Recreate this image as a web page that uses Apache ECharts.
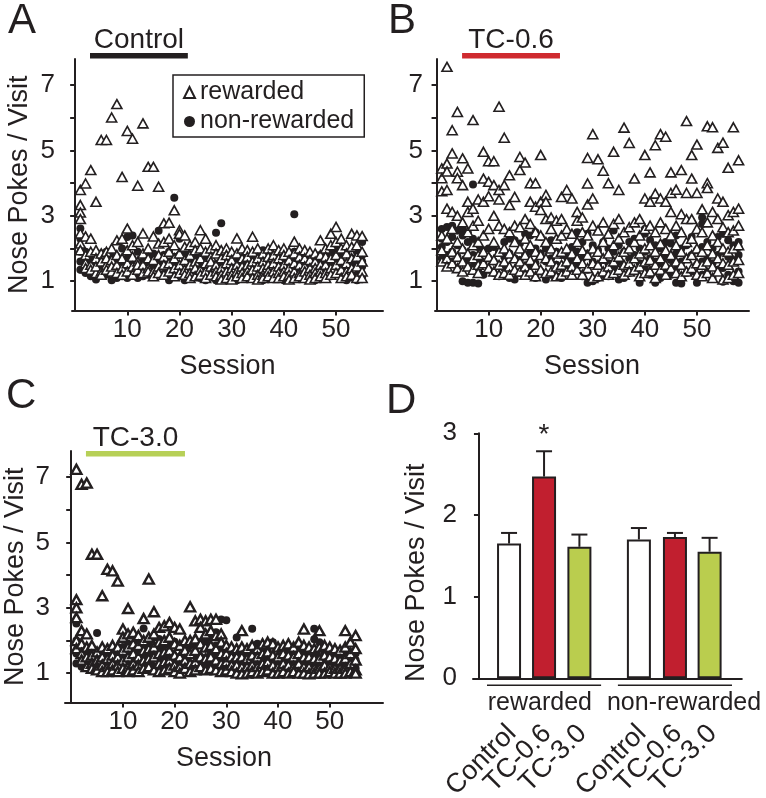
<!DOCTYPE html>
<html>
<head>
<meta charset="utf-8">
<script src="https://cdn.jsdelivr.net/npm/echarts@6/dist/echarts.min.js"></script>
<style>
  html, body { margin: 0; background: #fff; }
  #chart { width: 766px; height: 798px; }
</style>
</head>
<body>
<div id="chart"></div>
<script>
// ---- data ----
// nose pokes per visit, one list per session (session = index + 1)
const aRewarded = [
  [3.79, 3.33, 3.1, 2.9, 2.46, 2.15, 1.95], [3.99, 2.37, 1.8, 1.55, 1.4], [4.4, 2.3, 1.9, 1.5, 1.35],
  [3.43, 1.95, 1.7, 1.25, 1.45], [5.32, 1.85, 1.6, 1.3, 1.2], [5.32, 1.9, 1.5, 1.35, 1.7],
  [6.01, 2.0, 1.65, 1.3, 1.45], [6.42, 2.25, 1.8, 1.5, 1.25], [4.19, 2.3, 1.7, 1.4, 1.2],
  [5.6, 2.61, 1.95, 1.55, 1.3], [5.36, 2.1, 1.75, 1.45, 1.2], [3.92, 2.2, 1.6, 1.35, 1.5],
  [5.83, 2.46, 1.85, 1.5, 1.25], [4.5, 2.0, 1.7, 1.4, 1.3], [4.5, 2.37, 1.65, 1.3, 1.15],
  [3.89, 2.15, 1.8, 1.45, 1.25], [2.77, 2.2, 1.75, 1.5, 1.2], [2.79, 2.3, 1.9, 1.55, 1.3],
  [3.17, 2.1, 1.7, 1.4, 1.15], [2.56, 2.45, 1.85, 1.5, 1.25], [2.4, 2.05, 1.65, 1.35, 1.2],
  [2.1, 1.8, 1.5, 1.25, 1.1], [2.2, 1.95, 1.6, 1.4, 1.15], [2.56, 2.0, 1.7, 1.35, 1.2],
  [2.3, 1.9, 1.55, 1.3, 1.1], [2.0, 1.75, 1.45, 1.2, 1.6], [2.1, 1.85, 1.5, 1.3, 1.15],
  [1.95, 1.7, 1.4, 1.2, 1.05], [2.0, 1.8, 1.55, 1.3, 1.1], [1.9, 1.65, 1.4, 1.2, 1.05],
  [2.31, 1.85, 1.5, 1.3, 1.15], [2.0, 1.7, 1.45, 1.25, 1.1], [1.95, 1.75, 1.5, 1.3, 1.15],
  [2.36, 1.9, 1.6, 1.35, 1.1], [2.0, 1.7, 1.45, 1.2, 1.05], [1.85, 1.6, 1.4, 1.2, 1.1],
  [2.0, 1.75, 1.5, 1.3, 1.15], [2.1, 1.8, 1.55, 1.3, 1.1], [1.95, 1.7, 1.45, 1.25, 1.1],
  [2.0, 1.8, 1.5, 1.3, 1.15], [1.9, 1.65, 1.4, 1.2, 1.05], [2.21, 1.85, 1.55, 1.3, 1.1],
  [2.0, 1.75, 1.5, 1.25, 1.15], [1.95, 1.7, 1.45, 1.3, 1.1], [1.9, 1.65, 1.4, 1.2, 1.05],
  [1.85, 1.6, 1.4, 1.25, 1.1], [2.25, 1.8, 1.5, 1.3, 1.15], [2.0, 1.75, 1.5, 1.25, 1.1],
  [2.45, 2.1, 1.7, 1.4, 1.2], [2.66, 2.2, 1.8, 1.5, 1.25], [2.3, 2.0, 1.65, 1.35, 1.1],
  [2.1, 1.85, 1.55, 1.3, 1.15], [2.45, 2.05, 1.7, 1.4, 1.2], [2.4, 2.1, 1.75, 1.45, 1.1],
  [2.38, 1.9, 1.6, 1.3, 1.1]
];
const aNonRewarded = [
  [2.61, 2.3, 1.9, 1.6, 1.35], [1.9, 1.5, 1.25, 1.7], [1.7, 1.35, 1.55, 1.15], [1.05, 1.5, 1.8, 1.3],
  [1.2, 1.65, 1.45, 1.85], [1.4, 1.9, 1.2, 1.6], [1.03, 1.5, 1.75, 1.3], [1.3, 1.75, 1.55, 1.1],
  [1.6, 2.0, 1.35, 1.15], [2.35, 1.45, 1.1, 1.7], [2.4, 1.7, 1.25, 1.5], [1.5, 1.9, 1.3, 1.1],
  [1.35, 1.8, 1.6, 1.15], [1.6, 1.2, 1.85, 1.4], [1.45, 1.85, 1.25, 1.65], [2.54, 1.7, 1.3, 1.5],
  [1.55, 1.2, 1.8, 1.4], [1.03, 1.6, 1.9, 1.35], [3.55, 1.5, 1.25, 1.75], [2.3, 1.8, 1.4, 1.15],
  [1.03, 1.6, 1.35, 1.85], [1.35, 1.7, 1.5, 1.15], [1.5, 1.2, 1.75, 1.35], [1.8, 1.3, 1.55, 1.1],
  [1.03, 1.55, 1.35, 1.75], [1.4, 1.75, 1.2, 1.55], [2.48, 1.03, 1.5, 1.3], [2.77, 1.3, 1.6, 1.8],
  [1.45, 1.8, 1.2, 1.6], [1.2, 1.6, 1.4, 1.05], [1.03, 1.7, 1.45, 1.25], [1.5, 1.25, 1.7, 1.1],
  [1.65, 1.35, 1.15, 1.85], [1.8, 1.4, 1.6, 1.2], [1.9, 1.5, 1.2, 1.7], [1.95, 1.03, 1.6, 1.8],
  [1.85, 1.3, 1.55, 1.1], [1.5, 1.2, 1.7, 1.35], [1.7, 1.35, 1.15, 1.55], [1.03, 1.6, 1.4, 1.8],
  [1.45, 1.8, 1.2, 1.65], [3.05, 1.3, 1.65, 1.9, 1.1], [1.9, 1.5, 1.25, 1.7], [1.35, 1.7, 1.55, 1.15],
  [1.55, 1.2, 1.75, 1.4], [1.03, 1.6, 1.35, 1.8], [1.8, 1.4, 1.6, 1.2], [1.5, 1.25, 1.75, 1.1],
  [1.9, 1.6, 1.35, 1.15], [1.75, 1.35, 1.55, 1.95], [1.6, 1.2, 1.8, 1.4], [1.03, 1.5, 1.85, 1.3],
  [1.4, 1.7, 1.55, 1.15], [1.03, 1.55, 1.9, 1.3], [1.1, 1.45, 1.8, 2.2, 1.6]
];

const bRewarded = [
  [4.45, 4.15, 3.75, 2.4, 1.95, 1.6], [7.56, 4.6, 4.36, 3.79, 3.22, 2.3, 1.7, 1.45],
  [5.62, 4.91, 3.12, 2.6, 1.9, 1.55], [6.18, 4.35, 4.15, 3.0, 2.2, 1.75, 1.4],
  [4.76, 3.94, 2.8, 2.0, 1.6, 1.3], [4.45, 3.43, 3.12, 2.5, 1.85, 1.45],
  [5.93, 3.22, 2.7, 2.1, 1.7, 1.35], [3.5, 2.85, 2.2, 1.8, 1.5, 1.25],
  [4.96, 4.14, 3.43, 2.4, 1.9, 1.55], [4.67, 4.04, 3.6, 2.6, 1.75, 1.4],
  [4.67, 3.94, 3.0, 2.2, 1.65, 1.3], [6.34, 3.79, 3.5, 2.7, 1.9, 1.5, 1.2],
  [5.39, 3.94, 2.6, 2.0, 1.6, 1.25], [4.24, 3.33, 2.5, 1.85, 1.45, 1.2],
  [3.58, 2.7, 2.2, 1.7, 1.35], [4.8, 4.4, 2.65, 2.0, 1.6, 1.3],
  [4.63, 2.9, 2.3, 1.8, 1.45, 1.2], [4.0, 3.43, 2.75, 2.1, 1.65, 1.3],
  [4.0, 3.28, 2.5, 1.9, 1.5, 1.15], [4.86, 3.43, 3.18, 2.4, 1.8, 1.35],
  [3.64, 3.43, 2.9, 2.2, 1.7, 1.25], [2.95, 2.6, 2.0, 1.6, 1.3],
  [2.85, 2.3, 1.85, 1.45, 1.15], [3.58, 2.9, 2.4, 1.9, 1.5, 1.2],
  [3.79, 2.6, 2.0, 1.6, 1.3], [3.53, 2.45, 1.85, 1.45, 1.2],
  [3.12, 2.85, 2.2, 1.7, 1.35], [2.95, 2.5, 1.95, 1.55, 1.2],
  [4.77, 3.99, 3.35, 2.4, 1.8, 1.4], [5.5, 3.53, 2.7, 2.0, 1.55, 1.1],
  [4.73, 2.55, 1.9, 1.5, 1.15], [4.38, 2.8, 2.2, 1.7, 1.3],
  [4.0, 2.45, 1.85, 1.45, 1.2], [4.96, 2.75, 2.1, 1.6, 1.25],
  [3.79, 2.9, 2.3, 1.75, 1.35], [5.7, 2.5, 1.9, 1.5, 1.2],
  [5.23, 2.65, 2.0, 1.55, 1.3], [4.14, 2.8, 2.2, 1.7, 1.35],
  [2.9, 2.4, 1.85, 1.45, 1.15], [4.86, 3.53, 2.6, 2.0, 1.6, 1.25],
  [4.33, 3.43, 2.7, 2.1, 1.65, 1.3], [5.16, 3.68, 2.5, 1.9, 1.5, 1.1],
  [5.5, 3.53, 2.8, 2.15, 1.7, 1.35], [5.42, 3.43, 2.6, 1.95, 1.5, 1.2],
  [4.33, 3.7, 3.12, 2.4, 1.8, 1.4], [3.8, 2.7, 2.1, 1.6, 1.25],
  [4.4, 3.05, 2.5, 1.9, 1.5, 1.15], [5.9, 3.7, 2.9, 2.2, 1.7, 1.3],
  [4.86, 4.14, 2.9, 2.3, 1.8, 1.4], [5.18, 3.7, 2.6, 2.0, 1.55, 1.2],
  [3.2, 2.5, 1.9, 1.5, 1.15], [5.74, 4.0, 3.85, 2.8, 2.1, 1.6, 1.25],
  [5.71, 3.12, 2.4, 1.85, 1.45, 1.1], [5.08, 3.53, 2.9, 2.2, 1.7, 1.3],
  [5.24, 3.43, 2.65, 2.0, 1.55, 1.05], [4.47, 3.02, 2.5, 1.9, 1.5, 1.1],
  [5.71, 3.12, 2.55, 2.0, 1.6, 1.2], [4.7, 3.22, 2.7, 2.1, 1.65, 1.25]
];
const bNonRewarded = [
  [2.6, 2.3, 2.05, 1.7], [2.66, 2.2, 1.8, 1.5], [2.7, 2.35, 1.9, 1.6], [2.55, 2.1, 1.75, 1.4],
  [2.6, 2.4, 1.95, 1.0], [2.5, 2.2, 1.65, 0.95], [3.96, 2.3, 1.8, 1.45, 0.95], [2.05, 1.6, 1.3, 0.93],
  [1.95, 1.55, 1.2], [2.0, 1.7, 1.35], [2.05, 1.6, 1.25], [1.9, 1.5, 1.15],
  [2.2, 1.75, 1.4], [2.3, 1.85, 1.1], [2.25, 1.7, 1.3, 1.05], [2.15, 1.65, 1.25],
  [2.45, 1.8, 1.4], [2.4, 1.9, 1.5], [2.5, 2.0, 1.55, 1.1], [2.35, 1.85, 1.3],
  [2.0, 1.6, 1.05], [2.25, 1.7, 1.2], [1.9, 1.5, 1.15], [1.8, 1.4, 1.1],
  [1.75, 1.35], [2.05, 1.6, 1.2], [2.5, 1.9, 1.45], [2.2, 1.7, 1.15],
  [2.45, 1.85, 1.35, 0.95], [2.1, 1.6, 1.0], [1.95, 1.5, 1.1], [2.2, 1.65, 1.2],
  [2.0, 1.55, 1.15], [2.55, 1.9, 1.4], [2.1, 1.6, 1.05], [1.9, 1.45, 1.1],
  [2.2, 1.7, 1.25], [2.3, 1.8, 1.3], [2.0, 1.55, 0.95], [2.6, 2.45, 1.9, 1.4],
  [2.25, 1.7, 1.2], [2.1, 1.6, 0.95], [2.0, 1.5, 1.1], [2.2, 1.75, 1.3],
  [2.15, 1.65, 1.2], [2.4, 1.85, 1.35, 0.95], [2.0, 1.6, 1.15, 0.93], [2.1, 1.7, 1.25],
  [2.35, 1.8, 1.3], [1.95, 1.5, 0.95], [2.95, 2.75, 2.05, 1.6, 1.2], [2.2, 1.7, 1.25],
  [2.0, 1.55, 1.1], [2.35, 1.8, 1.35], [2.45, 1.9, 1.4, 0.98], [2.25, 1.75, 1.2],
  [2.1, 1.65, 1.0], [2.2, 2.05, 1.8, 1.3, 0.95]
];

const cRewarded = [
  [7.24, 3.25, 3.0, 2.7, 2.0, 1.75], [6.78, 2.3, 1.9, 1.6, 1.4], [6.82, 2.2, 1.8, 1.5, 1.2],
  [4.64, 1.85, 1.55, 1.3, 1.15], [4.64, 1.65, 1.4, 1.2, 1.1], [3.37, 1.8, 1.5, 1.25, 1.05],
  [4.18, 1.75, 1.45, 1.2, 1.05], [4.13, 1.85, 1.55, 1.3, 1.1], [3.82, 1.8, 1.5, 1.25, 1.05],
  [2.35, 2.1, 1.7, 1.4, 1.15], [2.98, 2.2, 1.8, 1.5, 1.2, 1.05], [2.25, 1.9, 1.6, 1.3, 1.1],
  [2.15, 1.85, 1.5, 1.25, 1.05], [2.67, 2.0, 1.7, 1.4, 1.15], [3.88, 2.1, 1.75, 1.45, 1.2],
  [2.88, 2.2, 1.8, 1.5, 1.1], [2.4, 1.95, 1.6, 1.3, 1.05], [2.45, 2.0, 1.65, 1.35, 1.1],
  [2.55, 2.1, 1.7, 1.4, 1.15], [2.4, 1.9, 1.55, 1.25, 1.05], [2.35, 1.85, 1.5, 1.2, 1.0],
  [2.0, 1.7, 1.4, 1.15], [3.03, 2.0, 1.6, 1.3, 1.05], [2.6, 2.05, 1.7, 1.35, 1.1],
  [2.65, 2.4, 1.9, 1.5, 1.2], [2.6, 2.2, 1.8, 1.45, 1.1], [2.65, 2.3, 1.85, 1.5, 1.15],
  [2.65, 2.15, 1.75, 1.4, 1.1], [2.2, 1.95, 1.6, 1.3, 1.05], [1.85, 1.6, 1.35, 1.1],
  [1.8, 1.5, 1.25, 1.05], [1.75, 1.5, 1.25, 1.0], [2.3, 1.8, 1.5, 1.2, 0.98],
  [1.75, 1.45, 1.2, 1.0], [1.85, 1.55, 1.25, 1.05], [1.75, 1.5, 1.2, 1.0],
  [1.9, 1.6, 1.3, 1.05], [1.95, 1.65, 1.35, 1.1], [1.9, 1.55, 1.25, 1.0],
  [1.8, 1.5, 1.2, 1.0], [1.85, 1.6, 1.3, 1.05], [1.9, 1.55, 1.25, 1.0],
  [1.8, 1.5, 1.2, 1.05], [1.95, 1.6, 1.3, 1.0], [2.35, 1.85, 1.5, 1.2, 1.0],
  [1.8, 1.5, 1.2, 0.98], [1.75, 1.45, 1.15, 1.0], [2.3, 1.8, 1.45, 1.15, 1.0],
  [1.85, 1.55, 1.25, 1.0], [1.8, 1.5, 1.2, 1.05], [1.75, 1.45, 1.15, 1.0],
  [1.7, 1.4, 1.15, 1.0], [2.3, 1.8, 1.45, 1.15, 1.0], [1.95, 1.6, 1.3, 1.05],
  [2.15, 1.75, 1.4, 1.1, 1.0]
];
const cNonRewarded = [
  [2.52, 2.0, 1.6, 1.3], [1.5, 1.2, 1.75], [1.4, 1.65, 1.15], [1.3, 1.55, 1.1], [2.23, 1.25, 1.5],
  [1.35, 1.6, 1.1], [1.4, 1.2, 1.65], [1.3, 1.55, 1.1], [1.45, 1.2, 1.7], [1.5, 1.25, 1.8],
  [1.55, 1.3, 1.9], [1.4, 1.7, 1.15], [1.6, 1.3, 1.9], [2.37, 1.5, 1.25, 1.8], [1.6, 1.3, 1.95],
  [2.1, 1.45, 1.75, 1.2], [1.7, 1.4, 2.05], [1.5, 1.25, 1.85], [1.6, 1.3, 1.95], [1.96, 1.45, 1.2],
  [1.5, 1.25, 1.8], [1.4, 1.15, 1.7], [1.55, 1.3, 1.85], [1.6, 1.3, 1.9], [1.5, 1.2, 1.95],
  [1.45, 1.2, 2.0], [1.6, 1.3, 2.1], [2.25, 1.5, 1.25, 1.85], [2.64, 1.7, 1.4, 1.2], [2.62, 1.6, 1.3],
  [1.5, 1.25, 1.7], [2.09, 1.4, 1.15], [1.35, 1.6, 1.1], [1.5, 1.25, 1.7], [2.36, 1.45, 1.2],
  [1.9, 1.4, 1.15], [1.5, 1.25, 1.75], [1.45, 1.2, 1.7], [1.95, 1.4, 1.15], [1.5, 1.25, 1.75],
  [1.45, 1.2, 1.7], [1.4, 1.15, 1.65], [1.5, 1.25, 1.75], [1.45, 1.2, 1.7], [1.4, 1.15, 1.65],
  [1.5, 1.25, 1.75], [2.36, 2.04, 1.6, 1.3], [1.95, 1.45, 1.2], [1.4, 1.15, 1.65], [1.5, 1.25, 1.7],
  [1.45, 1.2, 1.65], [1.4, 1.15, 1.6], [1.5, 1.25, 1.7], [1.45, 1.2, 1.65], [1.4, 1.15, 1.6]
];

// treatment period shown above each scatter panel (sessions)
const aTreatmentSpan = [2.85, 21.6];
const bTreatmentSpan = [4.9, 23.7];
const cTreatmentSpan = [2.85, 22.0];

const sessionTicks = [10, 20, 30, 40, 50];
const pokeTicks = [1, 2, 3, 4, 5, 6, 7];
const pokeLabels = [1, 3, 5, 7];

// panel D: mean nose pokes / visit with SEM
const dLabels = ['Control', 'TC-0.6', 'TC-3.0', 'Control', 'TC-0.6', 'TC-3.0'];
const dXs = [0.86, 1.86, 2.87, 4.57, 5.6, 6.59];
const dMeans = [1.65, 2.47, 1.61, 1.70, 1.73, 1.55];
const dErrors = [0.13, 0.31, 0.15, 0.14, 0.05, 0.17];
const dSignificant = [0, 1, 0, 0, 0, 0];
const dGroupLabels = ['rewarded', 'non-rewarded'];
const dGroupSpans = [[0.23, 3.49], [3.97, 7.23]];
const dGroupLabelXs = [1.74, 5.86];

// ---- styling ----
const INK = '#231f20';
const FONT = "'Liberation Sans', Arial, Helvetica, sans-serif";
const groupColors = { 'Control': '#ffffff', 'TC-0.6': '#c11f2f', 'TC-3.0': '#bacd4e' };

const scatterPanels = [
  { rew: aRewarded, non: aNonRewarded, span: aTreatmentSpan, label: 'Control', color: INK,
    grid: { left: 72, top: 59, width: 311, height: 251.6 }, xMin: -0.6, xMax: 59,
    yTitle: true, nameGap: 39, labelMargin: 17, barOffset: -6, textOffset: -19,
    tri: [10, 9], triBorder: 1.6 },
  { rew: bRewarded, non: bNonRewarded, span: bTreatmentSpan, label: 'TC-0.6', color: '#cf2a2f',
    grid: { left: 435, top: 59, width: 314, height: 251.6 }, xMin: -0.3, xMax: 60,
    yTitle: false, nameGap: 39, labelMargin: 12, barOffset: -6, textOffset: -19,
    tri: [10, 9], triBorder: 1.6 },
  { rew: cRewarded, non: cNonRewarded, span: cTreatmentSpan, label: 'TC-3.0', color: '#b7d057',
    grid: { left: 65, top: 451, width: 318, height: 251.6 }, xMin: -1.2, xMax: 60.3,
    yTitle: true, nameGap: 36, labelMargin: 15, barOffset: 0, textOffset: -13,
    tri: [10, 9], triBorder: 2.4 }
];

function toPoints(perSession) {
  const pts = [];
  perSession.forEach((vals, i) => vals.forEach(v => pts.push([i + 1, v])));
  return pts;
}

const axisLine = { lineStyle: { color: INK, width: 2 } };
const tickStyle = { lineStyle: { color: INK, width: 2 }, length: 5 };
const labelText = { color: INK, fontFamily: FONT, fontSize: 26 };

const grids = [], xAxes = [], yAxes = [], series = [];

scatterPanels.forEach((p, i) => {
  grids.push(p.grid);
  xAxes.push({
    type: 'value', gridIndex: i, min: p.xMin, max: p.xMax,
    name: 'Session', nameLocation: 'middle', nameGap: 42,
    nameTextStyle: { color: INK, fontFamily: FONT, fontSize: 27 },
    axisLine, splitLine: { show: false },
    axisTick: Object.assign({ customValues: sessionTicks }, tickStyle),
    axisLabel: Object.assign({ customValues: sessionTicks, margin: 6 }, labelText)
  });
  yAxes.push({
    type: 'value', gridIndex: i, min: 0.1, max: 7.8,
    name: p.yTitle ? 'Nose Pokes / Visit' : '', nameLocation: 'middle', nameGap: p.nameGap,
    nameTextStyle: { color: INK, fontFamily: FONT, fontSize: 27 },
    axisLine, splitLine: { show: false },
    axisTick: Object.assign({ customValues: pokeTicks }, tickStyle),
    axisLabel: Object.assign({ customValues: pokeLabels, margin: p.labelMargin }, labelText)
  });
  series.push({
    type: 'scatter', name: 'non-rewarded', xAxisIndex: i, yAxisIndex: i, silent: true,
    symbol: 'circle', symbolSize: 8, itemStyle: { color: INK, opacity: 1 },
    data: toPoints(p.non)
  });
  series.push({
    type: 'scatter', name: 'rewarded', xAxisIndex: i, yAxisIndex: i, silent: true,
    symbol: 'triangle', symbolSize: p.tri,
    itemStyle: { color: '#ffffff', borderColor: INK, borderWidth: p.triBorder, opacity: 1 },
    data: toPoints(p.rew)
  });
  series.push({
    type: 'custom', xAxisIndex: i, yAxisIndex: i, silent: true, clip: false,
    data: [p.span],
    renderItem: (params, api) => {
      const a = api.coord([api.value(0), 7.8]);
      const b = api.coord([api.value(1), 7.8]);
      return {
        type: 'group',
        children: [
          { type: 'rect', shape: { x: a[0], y: a[1] + p.barOffset, width: b[0] - a[0], height: 5.5 },
            style: { fill: p.color } },
          { type: 'text', style: { text: p.label, x: (a[0] + b[0]) / 2, y: a[1] + p.textOffset,
            align: 'center', verticalAlign: 'middle', fill: INK, font: '28px ' + FONT } }
        ]
      };
    }
  });
});

// panel D
grids.push({ left: 473, top: 433.3, width: 268.8, height: 245 });
xAxes.push({
  type: 'value', gridIndex: 3, min: -0.17, max: 7.51,
  axisLine, splitLine: { show: false }, axisTick: { show: false }, axisLabel: { show: false }
});
yAxes.push({
  type: 'value', gridIndex: 3, min: 0, max: 3, interval: 1,
  name: 'Nose Pokes / Visit', nameLocation: 'middle', nameGap: 43,
  nameTextStyle: { color: INK, fontFamily: FONT, fontSize: 27, padding: [0, 34, 0, 0] },
  axisLine, splitLine: { show: false }, axisTick: tickStyle,
  axisLabel: Object.assign({ margin: 16 }, labelText)
});
series.push({
  type: 'bar', xAxisIndex: 3, yAxisIndex: 3, silent: true, barWidth: 24,
  itemStyle: { borderColor: INK, borderWidth: 2 },
  data: dXs.map((x, i) => ({ value: [x, dMeans[i]], itemStyle: { color: groupColors[dLabels[i]] } }))
});
// SEM whiskers, significance star and the rotated group names under each bar
series.push({
  type: 'custom', xAxisIndex: 3, yAxisIndex: 3, silent: true, clip: false,
  data: dXs.map((x, i) => [x, dMeans[i], dMeans[i] + dErrors[i], dSignificant[i]]),
  renderItem: (params, api) => {
    const base = api.coord([api.value(0), api.value(1)]);
    const top = api.coord([api.value(0), api.value(2)]);
    const zero = api.coord([api.value(0), 0]);
    const line = { stroke: INK, lineWidth: 2 };
    const children = [
      { type: 'line', shape: { x1: base[0], y1: base[1], x2: top[0], y2: top[1] }, style: line },
      { type: 'line', shape: { x1: top[0] - 8, y1: top[1], x2: top[0] + 8, y2: top[1] }, style: line },
      { type: 'text', x: zero[0] + 3, y: zero[1] + 51, rotation: Math.PI / 4,
        style: { text: dLabels[params.dataIndex], x: 0, y: 0, align: 'right', verticalAlign: 'middle',
          fill: INK, font: '27px ' + FONT } }
    ];
    if (api.value(3)) {
      children.push({ type: 'text', style: { text: '*', x: top[0], y: top[1] - 16,
        align: 'center', verticalAlign: 'middle', fill: INK, font: '28px ' + FONT } });
    }
    return { type: 'group', children };
  }
});
series.push({
  type: 'custom', xAxisIndex: 3, yAxisIndex: 3, silent: true, clip: false,
  data: dGroupSpans,
  renderItem: (params, api) => {
    const a = api.coord([api.value(0), 0]);
    const b = api.coord([api.value(1), 0]);
    const t = api.coord([dGroupLabelXs[params.dataIndex], 0]);
    return {
      type: 'group',
      children: [
        { type: 'line', shape: { x1: a[0], y1: a[1] + 7, x2: b[0], y2: b[1] + 7 },
          style: { stroke: INK, lineWidth: 1.5 } },
        { type: 'text', style: { text: dGroupLabels[params.dataIndex], x: t[0], y: a[1] + 25,
          align: 'center', verticalAlign: 'middle', fill: INK, font: '25px ' + FONT } }
      ]
    };
  }
});

const letter = (t, left, top) => ({
  type: 'text', left, top, silent: true,
  style: { text: t, fill: INK, font: '42px ' + FONT }
});

const chart = echarts.init(document.getElementById('chart'), null, { renderer: 'canvas' });
chart.setOption({
  animation: false,
  backgroundColor: '#ffffff',
  legend: {
    data: ['rewarded', 'non-rewarded'], left: 173, top: 75, orient: 'vertical',
    selectedMode: false, padding: [5, 10, 3, 10], itemGap: 4, itemWidth: 11, itemHeight: 11,
    itemTextGap: 18, borderColor: INK, borderWidth: 1.5,
    textStyle: { color: INK, fontFamily: FONT, fontSize: 25 }
  },
  graphic: [letter('A', 8, 0), letter('B', 388, 0), letter('C', 6, 375), letter('D', 386, 380)],
  grid: grids,
  xAxis: xAxes,
  yAxis: yAxes,
  series
});
</script>
</body>
</html>
